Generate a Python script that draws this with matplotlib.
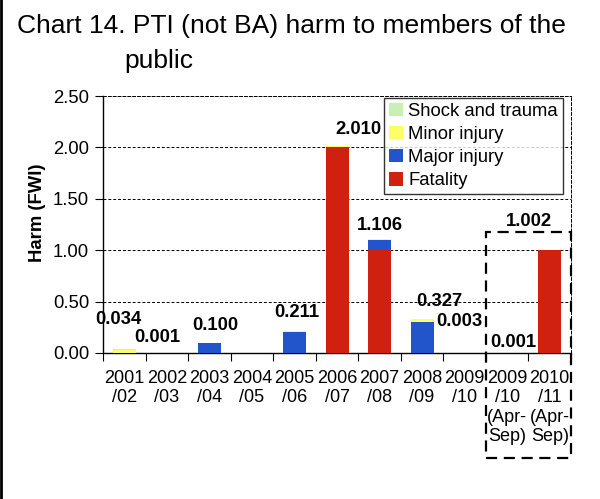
import matplotlib.pyplot as plt
from matplotlib.patches import Rectangle
from matplotlib.lines import Line2D
import numpy as np

plt.rcParams['font.family'] = ['Liberation Sans', 'DejaVu Sans']

years = ['2001\n/02', '2002\n/03', '2003\n/04', '2004\n/05', '2005\n/06',
         '2006\n/07', '2007\n/08', '2008\n/09', '2009\n/10',
         '2009\n/10\n(Apr-\nSep)', '2010\n/11\n(Apr-\nSep)']
fatality = [0, 0, 0, 0, 0, 2.0, 1.0, 0, 0, 0, 1.0]
major = [0, 0, 0.1, 0, 0.2, 0, 0.1, 0.3, 0, 0, 0]
minor = [0.03, 0.001, 0, 0, 0.011, 0.01, 0.006, 0.027, 0.003, 0.001, 0.002]
shock = [0.004, 0, 0, 0, 0, 0, 0, 0, 0, 0, 0]
totals = ['0.034', '0.001', '0.100', '', '0.211', '2.010', '1.106',
          '0.327', '0.003', '0.001', '1.002']

# where Excel dropped each total label (dx in bar widths, dy in data units)
label_dx = [-0.15, -0.23, 0.13, 0, 0.05, 0.51, 0, 0.41, -0.12, 0.15, -0.48]
label_dy = [0.29, 0.15, 0.17, 0, 0.18, 0.16, 0.134, 0.17, 0.30, 0.10, 0.28]

red = '#d02010'
blue = '#2255cc'
yellow = '#ffff66'
green = '#c8f0b4'

fig = plt.figure(figsize=(6, 4.99), dpi=100)
ax = fig.add_axes([0.1717, 0.2926, 0.7800, 0.5150])

x = np.arange(len(years))
w = 0.54
f = np.array(fatality)
mj = np.array(major)
mn = np.array(minor)
sh = np.array(shock)
ax.bar(x, f, w, color=red, label='Fatality', zorder=3)
ax.bar(x, mj, w, bottom=f, color=blue, label='Major injury', zorder=3)
ax.bar(x, mn, w, bottom=f + mj, color=yellow, label='Minor injury', zorder=3)
ax.bar(x, sh, w, bottom=f + mj + mn, color=green, label='Shock and trauma', zorder=3)

tops = f + mj + mn + sh
for i, t in enumerate(totals):
    if t:
        ax.text(x[i] + label_dx[i], tops[i] + label_dy[i], t, ha='center', va='center',
                fontsize=13.3, fontweight='bold', zorder=5)

ax.set_xlim(-0.5, len(years) - 0.5)
ax.set_ylim(0, 2.5)
ax.set_yticks(np.arange(0, 2.51, 0.5))
ax.set_yticklabels([f'{v:.2f}' for v in np.arange(0, 2.51, 0.5)])
ax.set_xticks(x)
ax.set_xticklabels(years, fontsize=13, va='top', linespacing=1.2)
ax.set_xticks(np.arange(-0.5, len(years)), minor=True)
ax.tick_params(axis='x', which='major', length=0, pad=12)
ax.tick_params(axis='x', which='minor', length=6, direction='out', width=0.8)
ax.tick_params(axis='y', length=6, direction='out', labelsize=13.3, width=0.8, pad=4)
ax.yaxis.grid(True, linestyle=(0, (3, 2)), color='black', linewidth=0.7, zorder=0)

ax.spines['top'].set_linestyle((0, (3, 2)))
ax.spines['top'].set_linewidth(0.7)
ax.spines['right'].set_linestyle((0, (3, 2)))
ax.spines['right'].set_linewidth(0.7)
ax.spines['left'].set_linewidth(1)
ax.spines['bottom'].set_linewidth(1)

fig.text(0.062, 0.573, 'Harm (FWI)', rotation=90, ha='center', va='center',
         fontsize=13.3, fontweight='bold')

h, l = ax.get_legend_handles_labels()
leg = ax.legend(h[::-1], l[::-1], loc='upper right', bbox_to_anchor=(0.982, 0.992),
                fontsize=13.3, frameon=True, fancybox=False, edgecolor='black',
                handlelength=0.75, handleheight=0.75, handletextpad=0.3,
                borderpad=0.25, labelspacing=0.32, borderaxespad=0)
leg.get_frame().set_linewidth(1)
leg.set_zorder(6)

fig.text(0.028, 1 - 33 / 499, 'Chart 14. PTI (not BA) harm to members of the',
         fontsize=19, ha='left', va='baseline')
fig.text(0.208, 1 - 68 / 499, 'public', fontsize=19, ha='left', va='baseline')

# dashed box round the half-year figures
x0 = 486 / 600
y0 = 1 - 458 / 499
box = Rectangle((x0, y0), 571 / 600 - x0, (1 - 232 / 499) - y0,
                transform=fig.transFigure, fill=False, edgecolor='black',
                linewidth=1.6, linestyle=(0, (5, 3)), zorder=7)
fig.patches.append(box)

fig.lines.append(Line2D([0.002, 0.002], [0, 1], transform=fig.transFigure,
                        color='black', linewidth=2))

fig.savefig('out.png', dpi=100)
